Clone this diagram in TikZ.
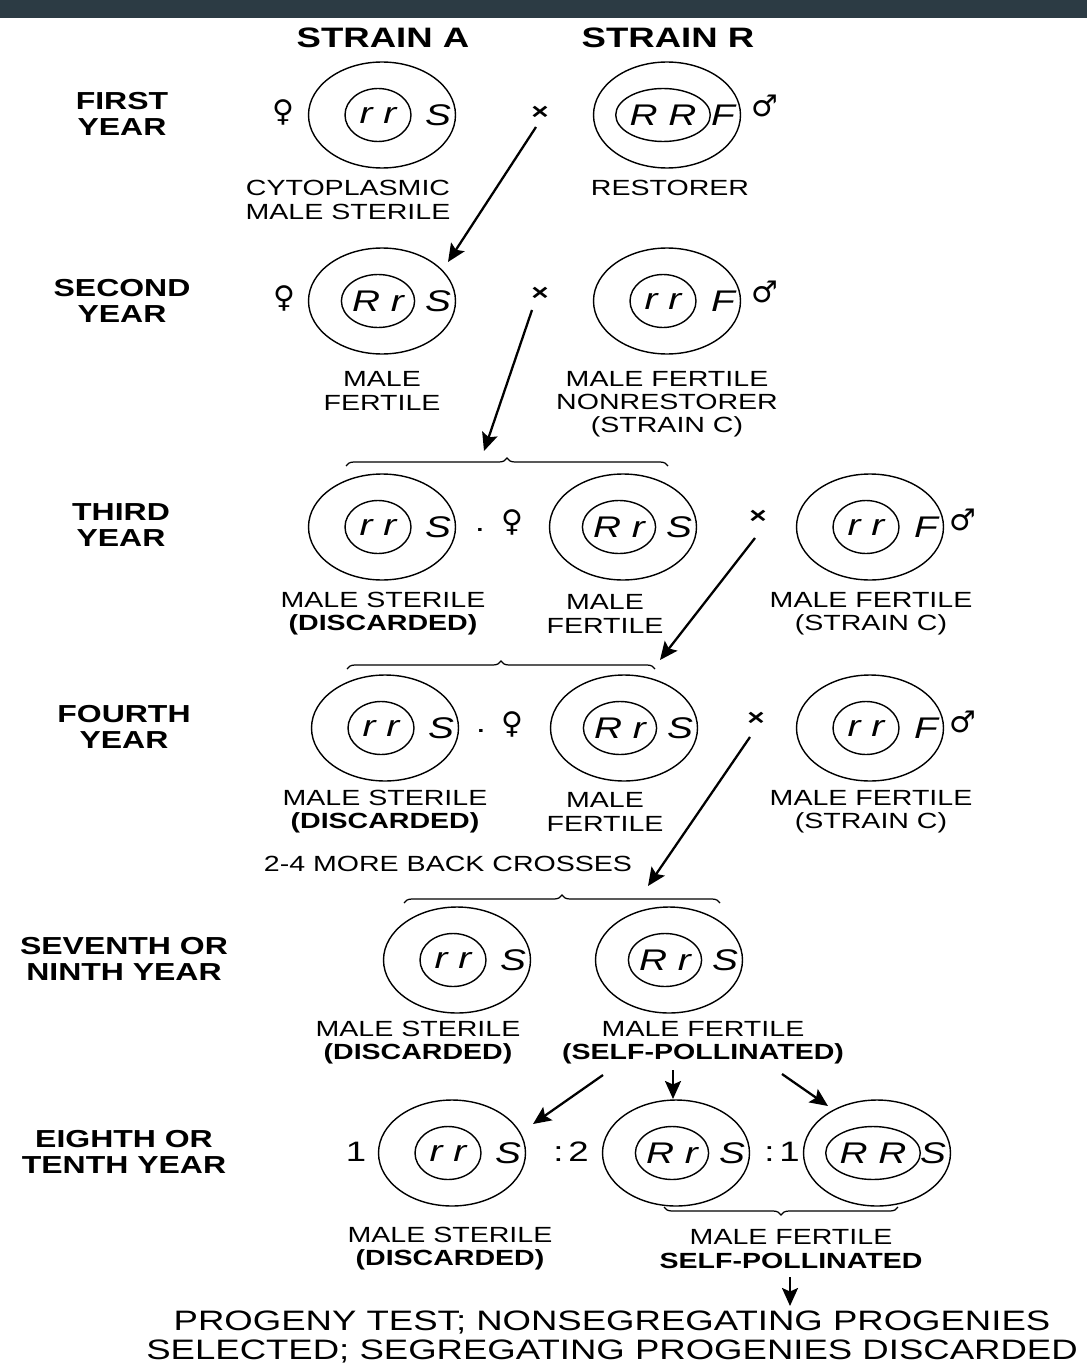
\documentclass[tikz,border=0pt]{standalone}
\usepackage{fontspec}
\setmainfont{Liberation Sans}[FakeStretch=1.3]
\newfontfamily\symf{DejaVu Sans}
\usetikzlibrary{shapes.geometric,arrows.meta,decorations.pathreplacing}
\definecolor{barcol}{HTML}{2C3B44}
\tikzset{
 outer/.style={draw, ellipse, line width=0.8pt, minimum width=2.94cm, minimum height=2.12cm, inner sep=0pt},
 inner/.style={draw, ellipse, line width=0.8pt, minimum width=1.32cm, minimum height=1.06cm, inner sep=0pt, font=\fontsize{17}{17}\selectfont\itshape},
 gene/.style={inner sep=0pt, font=\fontsize{17}{17}\selectfont\itshape},
 yr/.style={align=center, font=\fontsize{14}{14.7}\selectfont\bfseries, inner sep=0pt},
 lab/.style={align=center, font=\fontsize{12.5}{13.2}\selectfont, inner sep=0pt},
 hdr/.style={font=\fontsize{16}{16}\selectfont\bfseries, inner sep=0pt},
 sex/.style={font=\fontsize{17}{17}\selectfont\symf, inner sep=0pt},
 cross/.style={font=\fontsize{13}{13}\selectfont\bfseries, inner sep=0pt},
 ratio/.style={font=\fontsize{16}{16}\selectfont, inner sep=0pt},
 arr/.style={line width=1.3pt, -{Stealth[length=3.6mm,width=3.2mm,inset=0.7mm]}},
 brc/.style={line width=0.7pt, decorate, decoration={brace, amplitude=0.16cm}},
}
\newcommand\gcell[5]{%
 \node[outer] (#1) at (#2,#3) {};
 \node[inner] (#1i) at ([xshift=-0.08cm]#1.center) {#4};
 \node[gene] (#1g) at ([xshift=1.12cm]#1.center) {#5};
}
\begin{document}
\begin{tikzpicture}[x=0.02cm, y=-0.02cm]
\useasboundingbox (0,0) rectangle (1087,1365);
\fill[barcol] (0,0) rectangle (1087,18);

% headers
\node[hdr] (ha) at (383,38) {STRAIN A};
\node[hdr] (hr) at (668,38) {STRAIN R};

% years
\node[yr] (y1) at (122,114) {FIRST\\YEAR};
\node[yr] (y2) at (122,301) {SECOND\\YEAR};
\node[yr] (y3) at (121,525) {THIRD\\YEAR};
\node[yr] (y4) at (124,727) {FOURTH\\YEAR};
\node[yr] (y5) at (124,959) {SEVENTH OR\\NINTH YEAR};
\node[yr] (y6) at (124,1152) {EIGHTH OR\\TENTH YEAR};

% row 1
\gcell{a1}{382}{115}{r r}{S}
\gcell{r1}{667}{115}{R R}{F}
\node[sex] (f1) at (283,112) {♀};
\node[cross] (x1) at (540,113) {×};
\node[sex] (m1) at (765,106) {♂};
\node[lab] (la1) at (348,200) {CYTOPLASMIC\\MALE STERILE};
\node[lab] (lr1) at (670,188) {RESTORER};
\coordinate (s1) at (536,127);
\coordinate (e1) at (448,262);
\draw[arr] (s1) -- (e1);

% row 2
\gcell{a2}{382}{301}{R r}{S}
\gcell{r2}{667}{301}{r r}{F}
\node[sex] (f2) at (284,298) {♀};
\node[cross] (x2) at (540,294) {×};
\node[sex] (m2) at (765,292) {♂};
\node[lab] (la2) at (382,391) {MALE\\FERTILE};
\node[lab] (lr2) at (667,404) {MALE FERTILE\\NONRESTORER\\(STRAIN C)};
\coordinate (s2) at (532,310);
\coordinate (e2) at (484,451);
\draw[arr] (s2) -- (e2);
\coordinate (b1l) at (346,466);
\coordinate (b1r) at (668,466);
\draw[brc] (b1l) -- (b1r);

% row 3
\gcell{c31}{382}{527}{r r}{S}
\gcell{c32}{623}{527}{R r}{S}
\gcell{c33}{870}{527}{r r}{F}
\node[ratio] (d3) at (480,530) {.};
\node[sex] (f3) at (512,522) {♀};
\node[cross] (x3) at (758,517) {×};
\node[sex] (m3) at (963,520) {♂};
\node[lab] (l31) at (383,614) {MALE STERILE\\\textbf{(DISCARDED)}};
\node[lab] (l32) at (605,614) {MALE\\FERTILE};
\node[lab] (l33) at (871,614) {MALE FERTILE\\(STRAIN C)};
\coordinate (s3) at (755,538);
\coordinate (e3) at (660,660);
\draw[arr] (s3) -- (e3);
\coordinate (b2l) at (347,669);
\coordinate (b2r) at (655,669);
\draw[brc] (b2l) -- (b2r);

% row 4
\gcell{c41}{385}{728}{r r}{S}
\gcell{c42}{624}{728}{R r}{S}
\gcell{c43}{870}{728}{r r}{F}
\node[ratio] (d4) at (481,731) {.};
\node[sex] (f4) at (512,724) {♀};
\node[cross] (x4) at (756,719) {×};
\node[sex] (m4) at (963,722) {♂};
\node[lab] (l41) at (385,812) {MALE STERILE\\\textbf{(DISCARDED)}};
\node[lab] (l42) at (605,812) {MALE\\FERTILE};
\node[lab] (l43) at (871,812) {MALE FERTILE\\(STRAIN C)};
\node[lab] (bc) at (448,864) {2-4 MORE BACK CROSSES};
\coordinate (s4) at (750,737);
\coordinate (e4) at (648,886);
\draw[arr] (s4) -- (e4);
\coordinate (b3l) at (404,903);
\coordinate (b3r) at (720,903);
\draw[brc] (b3l) -- (b3r);

% row 5
\gcell{c51}{457}{960}{r r}{S}
\gcell{c52}{669}{960}{R r}{S}
\node[lab] (l51) at (418,1043) {MALE STERILE\\\textbf{(DISCARDED)}};
\node[lab] (l52) at (703,1043) {MALE FERTILE\\\textbf{(SELF-POLLINATED)}};
\coordinate (s5a) at (603,1075);
\coordinate (e5a) at (533,1124);
\coordinate (s5b) at (673,1070);
\coordinate (e5b) at (673,1099);
\coordinate (s5c) at (782,1074);
\coordinate (e5c) at (828,1106);
\draw[arr] (s5a) -- (e5a);
\draw[arr] (s5b) -- (e5b);
\draw[arr] (s5c) -- (e5c);

% row 6
\gcell{c61}{452}{1153}{r r}{S}
\gcell{c62}{676}{1153}{R r}{S}
\gcell{c63}{877}{1153}{R R}{S}
\node[ratio] (n1) at (356,1152) {1};
\node[ratio] (n2) at (571,1152) {:\,2};
\node[ratio] (n3) at (782,1152) {:\,1};
\node[lab] (l61) at (450,1249) {MALE STERILE\\\textbf{(DISCARDED)}};
\node[lab] (l62) at (791,1249) {MALE FERTILE\\\textbf{SELF-POLLINATED}};
\coordinate (b4l) at (664,1207);
\coordinate (b4r) at (898,1207);
\draw[brc, decoration={mirror}] (b4l) -- (b4r);
\coordinate (s6) at (790,1277);
\coordinate (e6) at (790,1306);
\draw[arr] (s6) -- (e6);

\node[align=center, inner sep=0pt, font=\fontsize{16}{16}\selectfont] (fin) at (612,1337)
 {PROGENY TEST; NONSEGREGATING PROGENIES\\SELECTED; SEGREGATING PROGENIES DISCARDED};
\end{tikzpicture}
\end{document}
